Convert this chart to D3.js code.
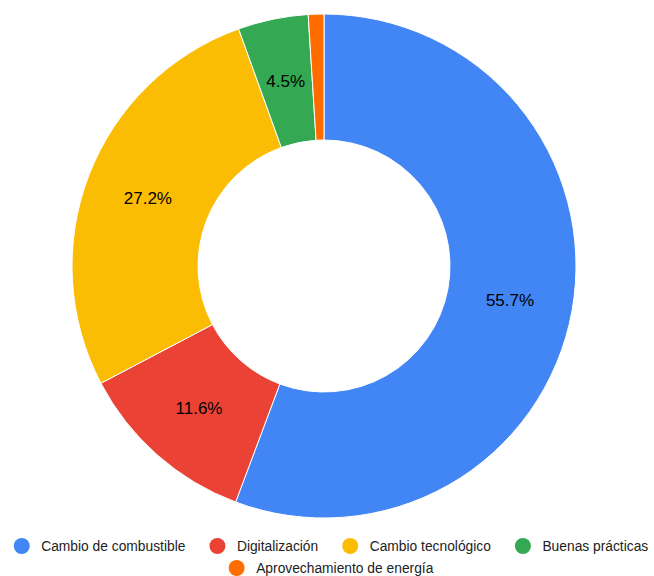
<!DOCTYPE html>
<html><head><meta charset="utf-8">
<script src="https://cdn.jsdelivr.net/npm/d3@7"></script>
<style>html,body{margin:0;padding:0;background:#fff;}svg{display:block;}</style>
</head><body>
<svg id="chart" width="654" height="576"></svg>
<script>
const categories = ["Cambio de combustible","Digitalización","Cambio tecnológico","Buenas prácticas","Aprovechamiento de energía"];
const values = [55.7, 11.6, 27.2, 4.5, 1.0];
const colors = ["#4285F4","#EA4335","#FBBC04","#34A853","#FF6D01"];
const legendRows = [[0,1,2,3],[4]];

const svg = d3.select("#chart");
const cx = 324, cy = 266, R = 252, r = 126;
const data = categories.map((c,i)=>({name:c, value:values[i], color:colors[i]}));
const pie = d3.pie().value(d=>d.value).sort(null);
const arc = d3.arc().innerRadius(r).outerRadius(R);
const arcs = pie(data);
const g = svg.append("g").attr("transform",`translate(${cx},${cy})`);
g.selectAll("path").data(arcs).join("path")
  .attr("d", arc).attr("fill", d=>d.data.color)
  .attr("stroke","#fff").attr("stroke-width",1);
const total = d3.sum(values);
g.selectAll("text").data(arcs.filter(d=>d.data.value/total>0.02)).join("text")
  .attr("transform", d=>`translate(${arc.centroid(d)})`)
  .attr("text-anchor","middle").attr("dy","0.36em")
  .attr("font-family","Arial, 'Liberation Sans', sans-serif").attr("font-size",17)
  .attr("fill","#000")
  .text(d=>d3.format(".1f")(d.value/total*100)+"%");

// legend
const lg = svg.append("g");
const font = "Arial, 'Liberation Sans', sans-serif", fs = 13.8;
const items = data.map(d=>{
  const t = lg.append("text").attr("font-family",font).attr("font-size",fs).attr("fill","#222").text(d.name);
  return {d, t, w: t.node().getComputedTextLength()};
});
const toText = 19.5, rad = 8, gap = 24;
legendRows.forEach((idx,ri)=>{
  const row = idx.map(i=>({...items[i], wi: rad + toText + items[i].w}));
  const rowW = row.reduce((s,x)=>s+x.wi,0) + (row.length-1)*gap;
  let x = (654 - rowW)/2 + 4;
  const y = 546 + ri*22;
  row.forEach(it=>{
    lg.append("circle").attr("cx", x+rad).attr("cy", y).attr("r", rad).attr("fill", it.d.color);
    it.t.attr("x", x + rad + toText).attr("y", y).attr("dy","0.35em");
    x += it.wi + gap;
  });
});
</script>
</body></html>
